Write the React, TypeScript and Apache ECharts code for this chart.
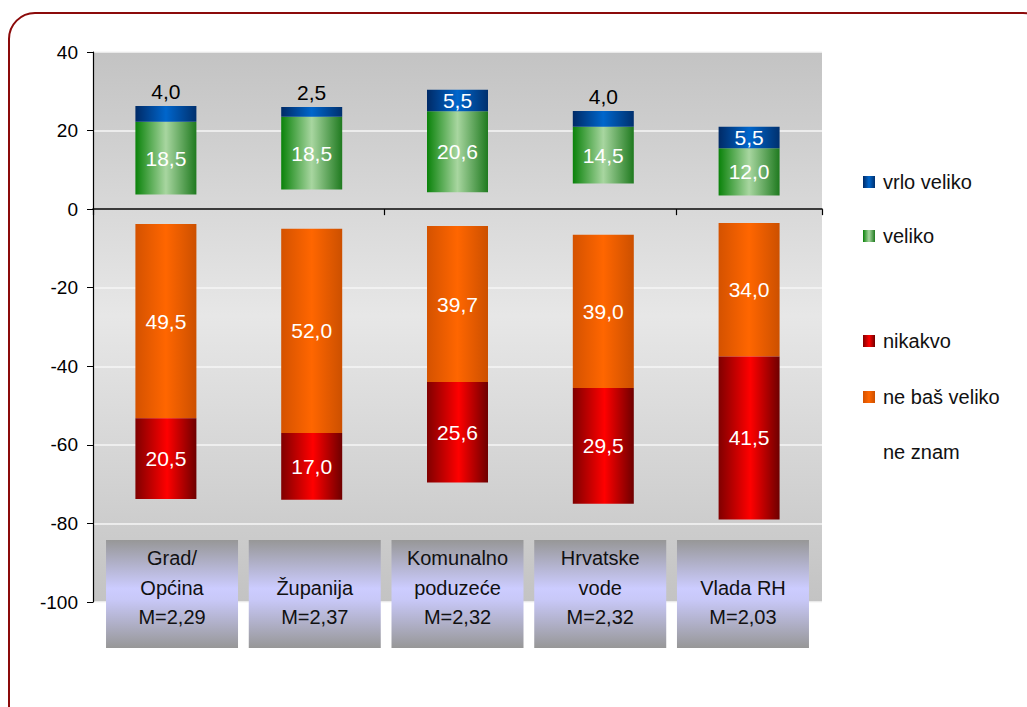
import React, { useEffect, useRef } from "react";
import * as echarts from "echarts";

const categories = ["Grad/ Općina", "Županija", "Komunalno poduzeće", "Hrvatske vode", "Vlada RH"];
const labelLines = [["Grad/", "Općina"], ["Županija"], ["Komunalno", "poduzeće"], ["Hrvatske", "vode"], ["Vlada RH"]];
const means = ["2,29", "2,37", "2,32", "2,32", "2,03"];

const vrloVeliko = [4.0, 2.5, 5.5, 4.0, 5.5];
const veliko = [18.5, 18.5, 20.6, 14.5, 12.0];
const neBasVeliko = [49.5, 52.0, 39.7, 39.0, 34.0];
const nikakvo = [20.5, 17.0, 25.6, 29.5, 41.5];
const neZnam = [7.5, 10.0, 8.6, 13.0, 7.0];

const yTicks = { min: -100, max: 40, interval: 20 };

const FONT = '"Liberation Sans", Arial, Helvetica, sans-serif';

const hGrad = (edgeL: string, mid: string, edgeR: string, midPos = 0.5) =>
  new echarts.graphic.LinearGradient(0, 0, 1, 0, [
    { offset: 0, color: edgeL },
    { offset: midPos, color: mid },
    { offset: 1, color: edgeR },
  ]);

const fmt = (v: number) => Math.abs(v).toFixed(1).replace(".", ",");

export default function App() {
  const ref = useRef<HTMLDivElement>(null);

  useEffect(() => {
    if (!ref.current) return;
    const chart = echarts.init(ref.current, undefined, { renderer: "svg" });

    const blue = hGrad("#002a66", "#0066cc", "#00306e");
    const green = hGrad("#0a820a", "#a8d6a0", "#1f7a1f");
    const orange = hGrad("#d45200", "#ff6600", "#cc5000");
    const red = hGrad("#800000", "#ff0000", "#6e0000", 0.52);

    const insideLabel = {
      show: true,
      position: "inside",
      color: "#fff",
      fontSize: 21,
      fontFamily: FONT,
      formatter: (p: any) => fmt(p.value),
    };

    const hidden = {
      name: "ne znam",
      type: "bar",
      stack: "s",
      silent: true,
      itemStyle: { color: "transparent" },
      label: { show: false },
      emphasis: { disabled: true },
    };

    const legendBase = (name: string, centerY: number) => ({
      data: [name],
      left: 863,
      top: centerY - 10,
      padding: 0,
      itemWidth: 12,
      itemHeight: 12,
      icon: "rect",
      selectedMode: false,
      textStyle: { fontSize: 20, fontFamily: FONT, color: "#111", lineHeight: 20, padding: [0, 0, 0, 3] },
    });

    chart.setOption({
      animation: false,
      textStyle: { fontFamily: FONT },
      grid: {
        left: 93,
        right: 205,
        top: 52,
        bottom: 105,
        show: true,
        borderWidth: 0,
        backgroundColor: new echarts.graphic.LinearGradient(0, 0, 0, 1, [
          { offset: 0, color: "#c3c3c3" },
          { offset: 0.48, color: "#e7e7e7" },
          { offset: 1, color: "#c3c3c3" },
        ]),
      },
      legend: [
        legendBase("vrlo veliko", 182),
        legendBase("veliko", 236),
        legendBase("nikakvo", 341),
        legendBase("ne baš veliko", 397),
        legendBase("ne znam", 452),
      ],
      xAxis: {
        type: "category",
        data: categories,
        axisLine: { onZero: true, lineStyle: { color: "#000", width: 1.5 } },
        axisTick: { show: true, length: 6, lineStyle: { color: "#000", width: 1.2 } },
        axisLabel: { show: false },
        splitLine: { show: false },
      },
      yAxis: {
        type: "value",
        min: yTicks.min,
        max: yTicks.max,
        interval: yTicks.interval,
        axisLine: { show: true, lineStyle: { color: "#000", width: 1.2 } },
        axisTick: { show: true, length: 6, lineStyle: { color: "#000" } },
        axisLabel: { color: "#000", fontSize: 19, fontFamily: FONT, margin: 15 },
        splitLine: { show: true, lineStyle: { color: "#f6f6f6", width: 1.5 } },
      },
      series: [
        { ...hidden, data: neZnam.map((v) => v / 2) },
        {
          name: "veliko",
          type: "bar",
          stack: "s",
          barWidth: 61,
          itemStyle: { color: green },
          label: insideLabel,
          data: veliko,
        },
        {
          name: "vrlo veliko",
          type: "bar",
          stack: "s",
          itemStyle: { color: blue },
          label: insideLabel,
          data: vrloVeliko.map((v) =>
            v < 5
              ? { value: v, label: { position: "top", color: "#000", distance: 4 } }
              : { value: v }
          ),
        },
        { ...hidden, data: neZnam.map((v) => -v / 2) },
        {
          name: "ne baš veliko",
          type: "bar",
          stack: "s",
          itemStyle: { color: orange },
          label: insideLabel,
          data: neBasVeliko.map((v) => -v),
        },
        {
          name: "nikakvo",
          type: "bar",
          stack: "s",
          itemStyle: { color: red },
          label: insideLabel,
          data: nikakvo.map((v) => -v),
        },
      ],
    });

    const yBottom = chart.convertToPixel({ yAxisIndex: 0 }, yTicks.min) as number;
    const midX = chart.convertToPixel({ xAxisIndex: 0 }, categories[2]) as number;
    const boxTop = yBottom - 62;
    const boxH = 108;
    const boxW = 132;
    const boxes: any[] = [];
    categories.forEach((c, i) => {
      const px = chart.convertToPixel({ xAxisIndex: 0 }, c) as number;
      const cx = midX + (px - midX) * 0.979;
      const lines = labelLines[i].length === 1 ? [" ", ...labelLines[i]] : labelLines[i];
      boxes.push({
        type: "rect",
        shape: { x: cx - boxW / 2, y: boxTop, width: boxW, height: boxH },
        style: {
          fill: new echarts.graphic.LinearGradient(0, 0, 0, 1, [
            { offset: 0, color: "#979797" },
            { offset: 0.45, color: "#ccccff" },
            { offset: 0.55, color: "#c8c8f8" },
            { offset: 1, color: "#979797" },
          ]),
        },
        z: 10,
      });
      boxes.push({
        type: "text",
        x: cx,
        y: boxTop + 47.5,
        style: {
          text: [...lines, "M=" + means[i]].join("\n"),
          textAlign: "center",
          textVerticalAlign: "middle",
          font: `20px ${FONT}`,
          lineHeight: 29.5,
          fill: "#111",
        },
        z: 11,
      });
    });

    chart.setOption({
      graphic: [
        {
          type: "rect",
          shape: { x: 9, y: 13, width: 1040, height: 720, r: 26 },
          style: { fill: "none", stroke: "#8b0a0a", lineWidth: 2 },
          z: 20,
          silent: true,
        },
        ...boxes,
      ],
    });

    return () => chart.dispose();
  }, []);

  return (
    <div
      ref={ref}
      style={{ position: "absolute", left: 0, top: 0, width: 1027, height: 707, background: "#fff" }}
    />
  );
}
